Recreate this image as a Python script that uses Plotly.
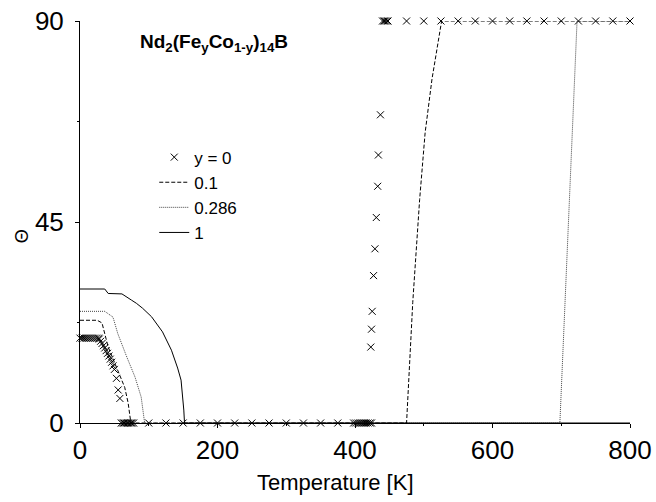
import plotly.graph_objects as go

# y = 0 : calculated points (markers)
t_y0 = [0, 3, 6, 9, 12, 15, 18, 21, 24, 27, 28, 30, 32, 34, 36, 38, 40, 42, 44, 46, 48, 50,
        53, 55.5, 58, 60, 62, 64, 66, 68, 70, 72, 74, 76, 78,
        100, 125, 150, 175, 200, 225, 250, 275, 300, 325, 350, 375,
        398, 401, 404, 407, 410, 413, 416, 419, 422, 424,
        423, 424, 425, 427, 429, 431, 433, 434, 437,
        440, 442, 444, 446, 448,
        475, 500, 525, 550, 575, 600, 625, 650, 675, 700, 725, 750, 775, 800]
th_y0 = [19, 19, 19, 19, 19, 19, 19, 19, 19, 19, 18.8, 18.3, 17.8, 17.3, 16.8, 16.2, 15.6, 15.0, 14.3, 13.6, 12.8, 12.0,
         10.0, 7.4, 5.5, 0, 0, 0, 0, 0, 0, 0, 0, 0, 0,
         0, 0, 0, 0, 0, 0, 0, 0, 0, 0, 0, 0,
         0, 0, 0, 0, 0, 0, 0, 0, 0, 0,
         17, 21, 25, 33, 39, 46, 53, 60, 69,
         90, 90, 90, 90, 90,
         90, 90, 90, 90, 90, 90, 90, 90, 90, 90, 90, 90, 90, 90]

# y = 0.1 (dashed)
t_01 = [0, 25, 32, 41, 53, 65, 70, 74, 475, 484, 494, 502, 512, 526, 800]
th_01 = [23, 23, 22.4, 17, 12.5, 8, 4.5, 0, 0, 27, 50, 65, 77, 90, 90]

# y = 0.286 (dotted)
t_0286 = [0, 36, 48, 55, 68, 80, 89, 94, 698, 711, 723, 800]
th_0286 = [25, 25, 23.7, 20, 14.8, 10.3, 5.8, 0, 0, 45, 90, 90]

# y = 1 (solid)
t_1 = [0, 36, 41, 61, 75, 82, 91, 104, 120, 133, 142, 147, 151, 152, 800]
th_1 = [30, 30, 29, 28.9, 27.5, 26.8, 25.7, 23.8, 20.4, 16.3, 12.3, 9.6, 2.9, 0, 0]

fig = go.Figure()
fig.add_trace(go.Scatter(x=t_y0, y=th_y0, mode="markers", name="y = 0",
                         marker=dict(symbol="x-thin", size=7, line=dict(color="black", width=1), color="black"),
                         cliponaxis=False))
fig.add_trace(go.Scatter(x=t_01, y=th_01, mode="lines", name="0.1",
                         line=dict(color="black", width=1, dash="4px,2px"), cliponaxis=False))
fig.add_trace(go.Scatter(x=t_0286, y=th_0286, mode="lines", name="0.286",
                         line=dict(color="#444444", width=1, dash="1px,1px"), cliponaxis=False))
fig.add_trace(go.Scatter(x=t_1, y=th_1, mode="lines", name="1",
                         line=dict(color="black", width=1), cliponaxis=False))

fig.update_layout(
    width=656, height=502,
    margin=dict(l=80, r=26, t=21, b=79),
    paper_bgcolor="white", plot_bgcolor="white",
    font=dict(family="Liberation Sans, Arial, sans-serif", color="black"),
    showlegend=True,
    legend=dict(x=0.135, y=0.705, xanchor="left", yanchor="top",
                bgcolor="rgba(0,0,0,0)", font=dict(size=17), tracegroupgap=0),
    xaxis=dict(range=[0, 800], tickvals=[0, 200, 400, 600, 800], showgrid=False, zeroline=False,
               showline=True, linecolor="black", linewidth=1, ticks="outside", ticklen=4,
               tickcolor="black", tickfont=dict(size=26), automargin=False,
               minor=dict(tickvals=[100, 300, 500, 700], ticks="outside", ticklen=2, tickcolor="black")),
    yaxis=dict(range=[0, 90], tickvals=[0, 45, 90], showgrid=False, zeroline=False,
               showline=True, linecolor="black", linewidth=1, ticks="outside", ticklen=4,
               tickcolor="black", tickfont=dict(size=26), ticklabelstandoff=6, automargin=False,
               minor=dict(tickvals=[22.5, 67.5], ticks="outside", ticklen=2, tickcolor="black")),
    annotations=[
        dict(text="<b>Nd<sub>2</sub>(Fe<sub>y</sub>Co<sub>1-y</sub>)<sub>14</sub>B</b>",
             xref="paper", yref="paper", x=0.244, y=0.945, xanchor="center", yanchor="middle",
             showarrow=False, font=dict(size=19)),
        dict(text="Θ", xref="paper", yref="paper", x=-0.105, y=0.465, xanchor="center", yanchor="middle",
             showarrow=False, textangle=-90, font=dict(size=18)),
        dict(text="Temperature [K]", xref="paper", yref="paper", x=0.465, y=-0.147,
             xanchor="center", yanchor="middle", showarrow=False, font=dict(size=22)),
    ],
)

fig.write_html("out.html")
